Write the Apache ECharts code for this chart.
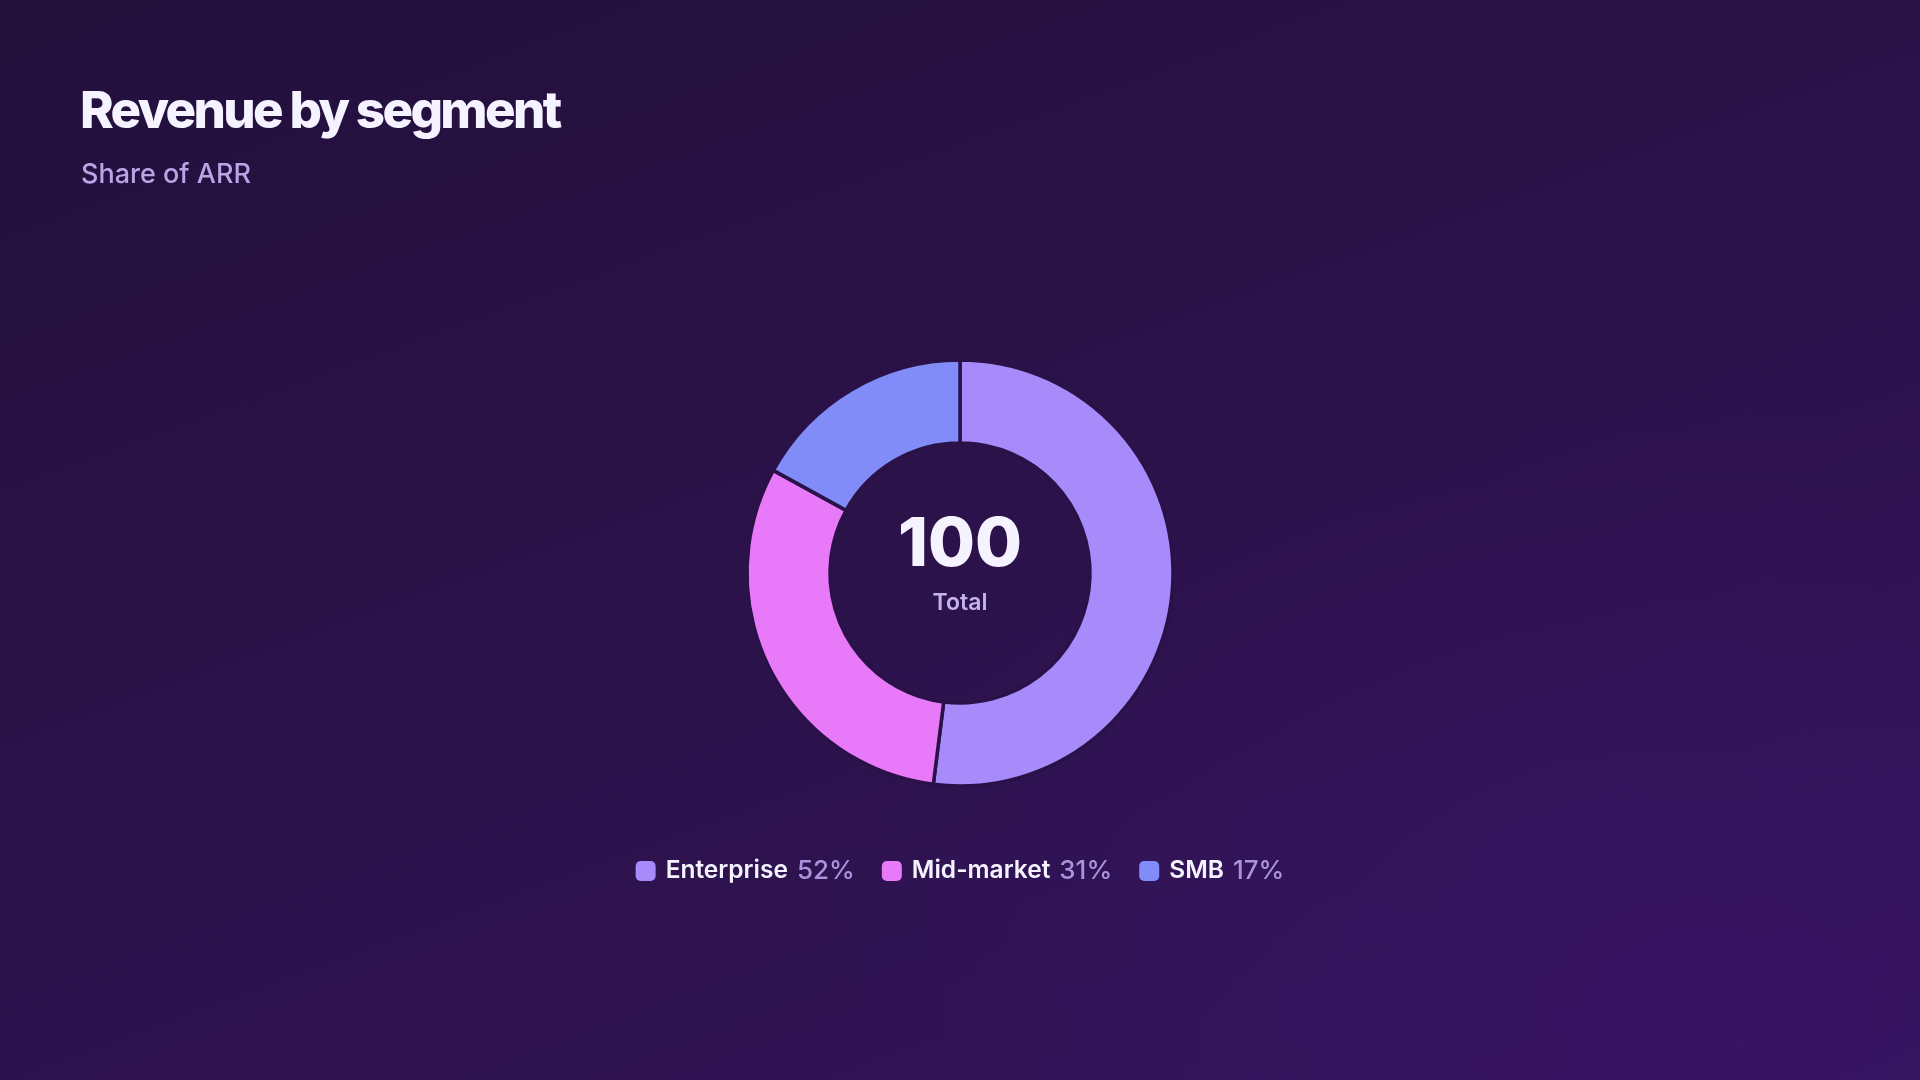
<!DOCTYPE html>
<html>
<head>
<meta charset="utf-8">
<script src="https://cdn.jsdelivr.net/npm/echarts@6/dist/echarts.min.js"></script>
<style>
  html, body { margin: 0; padding: 0; width: 1920px; height: 1080px; overflow: hidden; }
  body {
    position: relative;
    background:
      radial-gradient(ellipse 900px 600px at 1700px 1000px, rgba(60, 20, 110, 0.5), rgba(60, 20, 110, 0) 100%),
      linear-gradient(160deg, #22103b 0%, #2b1249 45%, #33145a 100%);
  }
  #chart { width: 1920px; height: 1080px; }
  #title {
    position: absolute; left: 80px; top: 84px; margin: 0;
    font-family: Inter, "Noto Sans", sans-serif; font-size: 51px; font-weight: 800;
    line-height: 51px; letter-spacing: -0.052em; color: #f5f3ff; white-space: nowrap;
  }
</style>
</head>
<body>
<h1 id="title"></h1>
<div id="chart"></div>
<script>
const titleText = 'Revenue by segment';
const subtitleText = 'Share of ARR';
const categories = ['Enterprise', 'Mid-market', 'SMB'];
const values = [52, 31, 17];
const colors = ['#a78bfa', '#e879f9', '#818cf8'];
const centerLabel = 'Total';

const total = values.reduce((a, b) => a + b, 0);
const FONT = 'Inter, "Noto Sans", sans-serif';

document.getElementById('title').textContent = titleText;

const chart = echarts.init(document.getElementById('chart'), null, { renderer: 'canvas' });

const data = categories.map((c, i) => ({ name: c, value: values[i], itemStyle: { color: colors[i] } }));

chart.setOption({
  backgroundColor: 'transparent',
  animation: false,
  title: [
    {
      text: subtitleText,
      left: 76, top: 156,
      textStyle: { color: '#bba3e6', fontFamily: FONT, fontSize: 27, fontWeight: 500, lineHeight: 28 }
    }
  ],
  legend: {
    data: categories,
    left: 'center',
    top: 853,
    icon: 'roundRect',
    itemWidth: 20,
    itemHeight: 20,
    itemGap: 27,
    itemStyle: { borderWidth: 0 },
    formatter: function (name) {
      const i = categories.indexOf(name);
      const pct = Math.round(values[i] / total * 100);
      return '{n|' + name + '}{v|' + pct + '%}';
    },
    textStyle: {
      fontFamily: FONT,
      rich: {
        n: { color: '#f5f3ff', fontFamily: FONT, fontSize: 24.5, fontWeight: 600, padding: [0, 9, 0, 5] },
        v: { color: '#aa93dc', fontFamily: FONT, fontSize: 26, fontWeight: 500 }
      }
    }
  },
  graphic: [
    {
      type: 'text', left: 'center', top: 512, z: 10,
      style: { text: String(total), fill: '#f5f3ff', font: '800 68px ' + FONT, textAlign: 'center' }
    },
    {
      type: 'text', left: 'center', top: 592, z: 10,
      style: { text: centerLabel, fill: '#c4b2ec', font: '600 23px ' + FONT, textAlign: 'center' }
    }
  ],
  series: [{
    type: 'pie',
    center: [960, 573],
    radius: [130, 213],
    startAngle: 90,
    clockwise: true,
    avoidLabelOverlap: false,
    label: { show: false },
    labelLine: { show: false },
    emphasis: { disabled: true },
    itemStyle: { borderColor: '#2a1249', borderWidth: 3.5 },
    data: data
  }]
});
</script>
</body>
</html>
